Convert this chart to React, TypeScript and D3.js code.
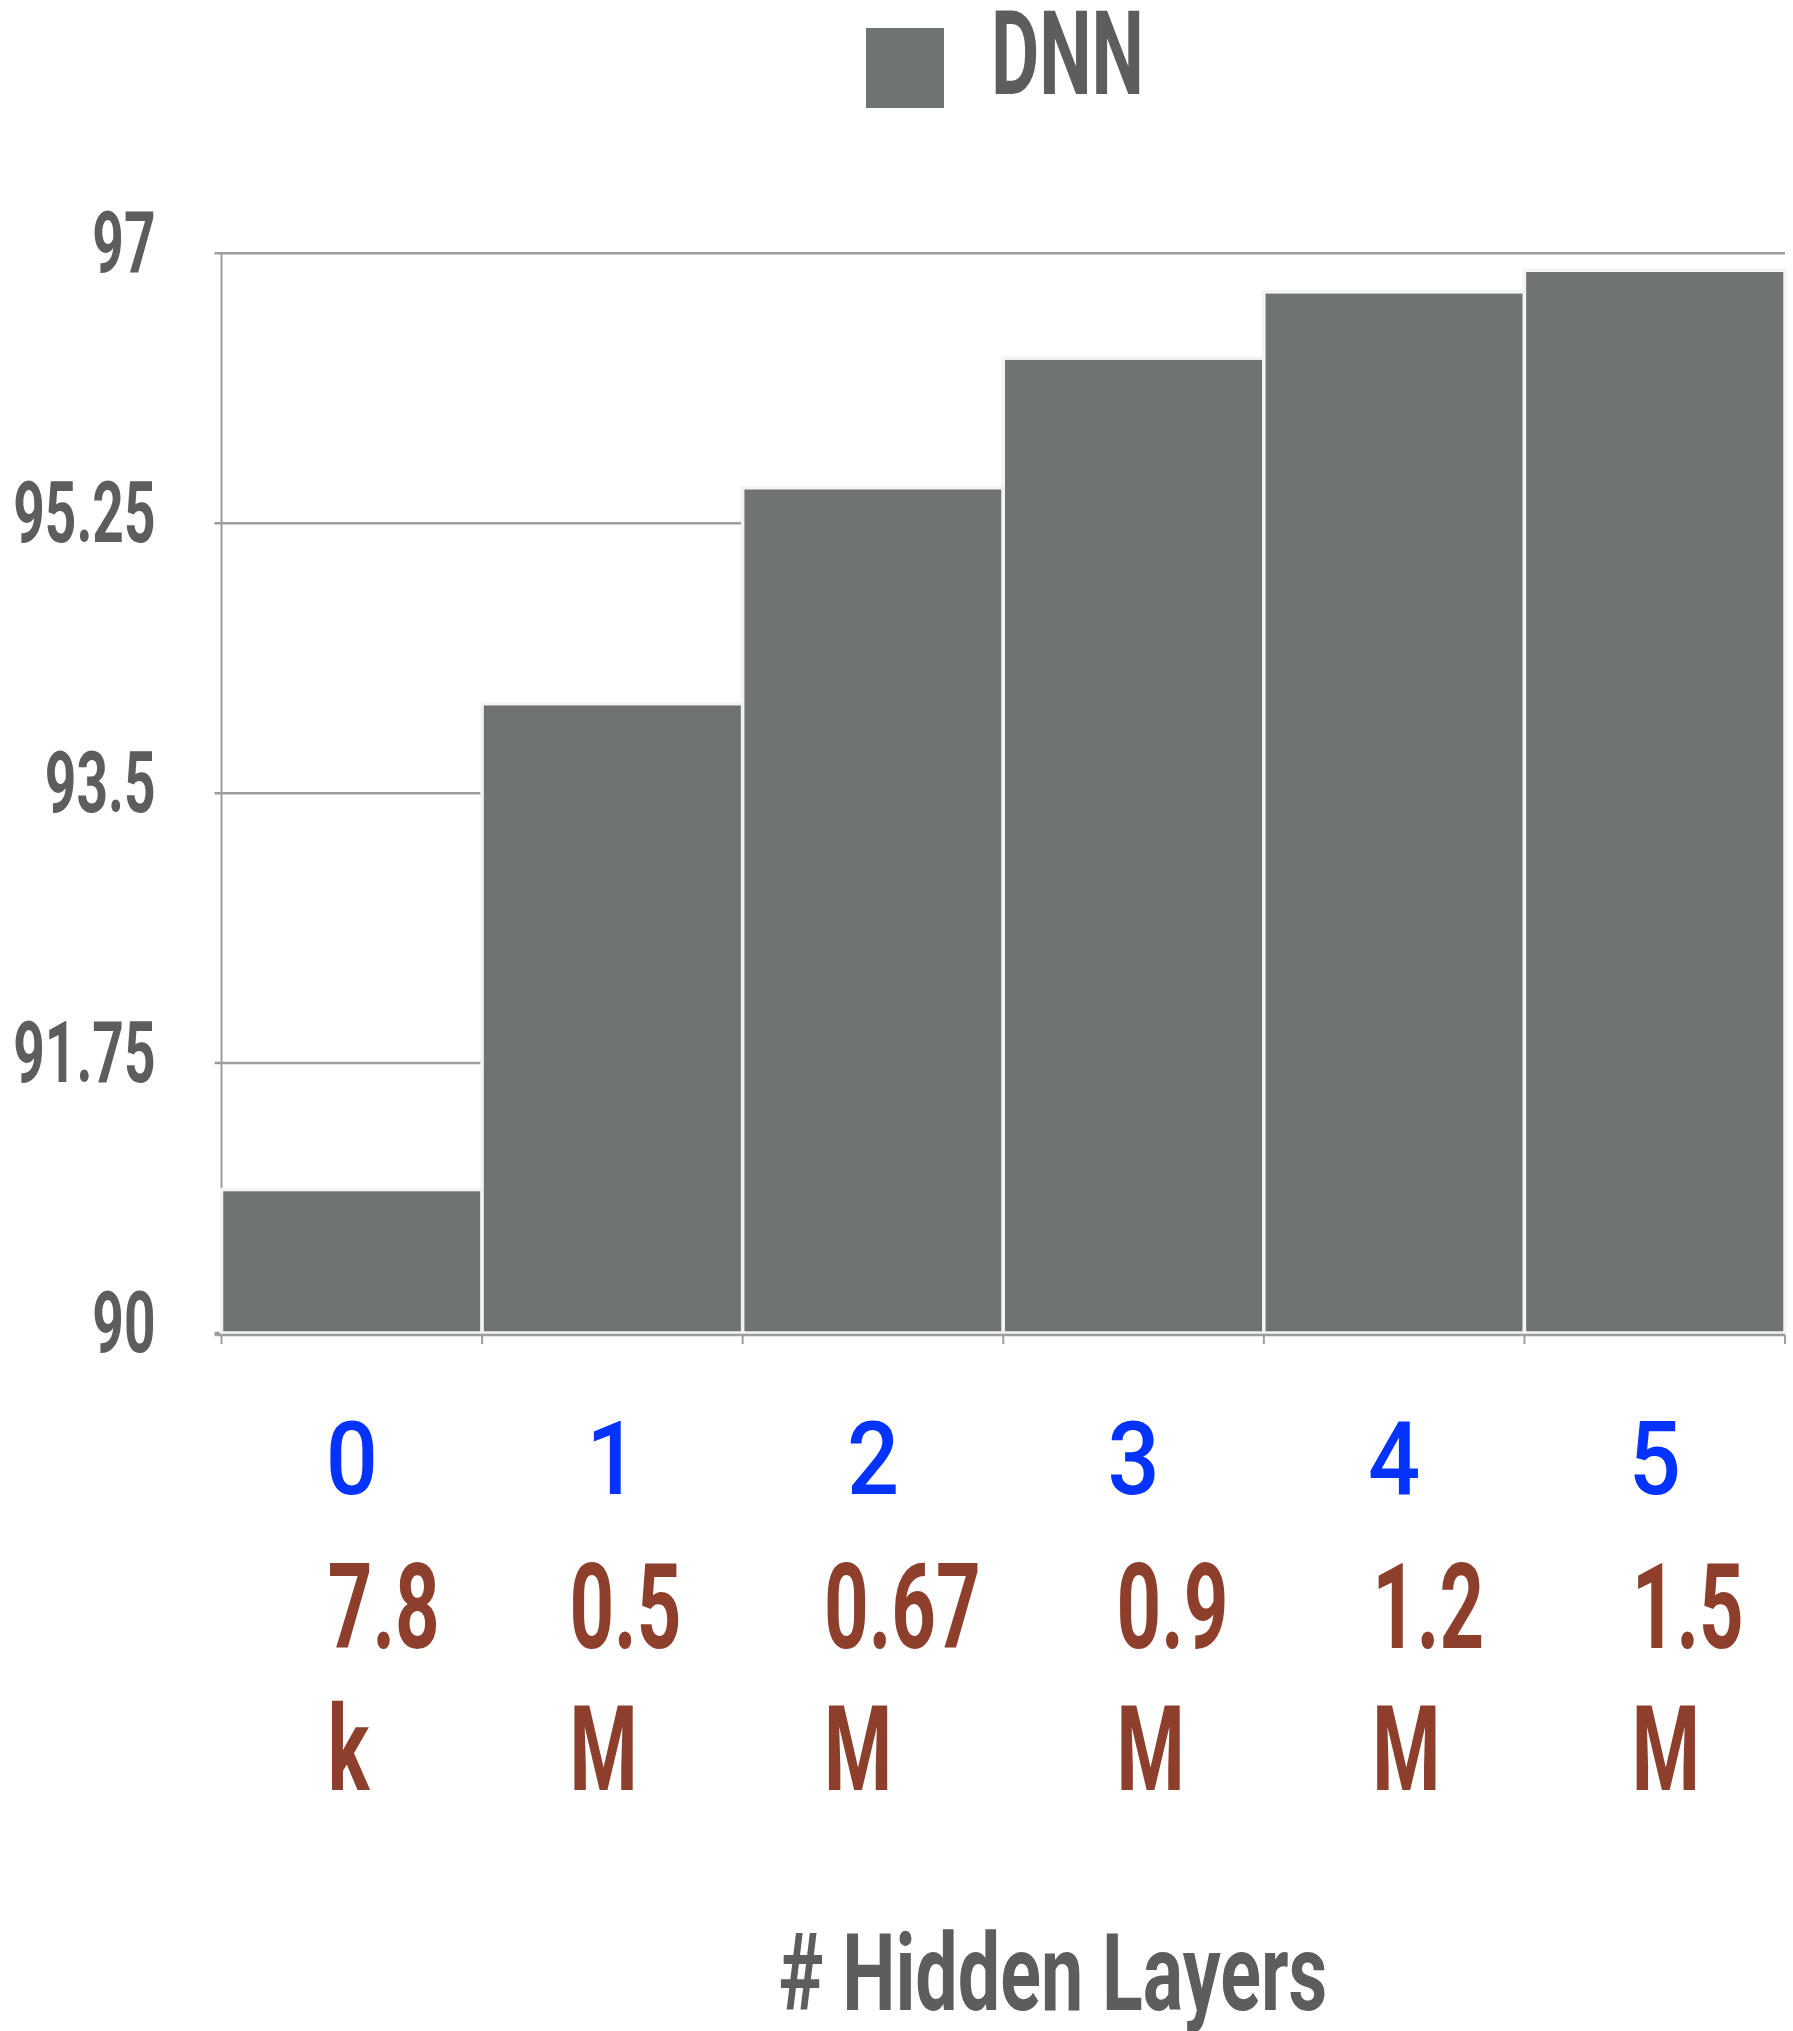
import React from "react";
import * as d3 from "d3";

// Accuracy (%) of a DNN by number of hidden layers
const layers = ["0", "1", "2", "3", "4", "5"];
const accuracy = [90.93, 94.08, 95.48, 96.32, 96.75, 96.89];
const paramCount = ["7.8", "0.5", "0.67", "0.9", "1.2", "1.5"];
const paramUnit = ["k", "M", "M", "M", "M", "M"];
const yTicks = [90, 91.75, 93.5, 95.25, 97];
const seriesName = "DNN";
const xTitle = "# Hidden Layers";

const W = 1793;
const H = 2031;
const plot = { left: 221.5, right: 1785, top: 253.3, bottom: 1333 };

const FONT = "Roboto, 'DejaVu Sans', sans-serif";
const GREY_TEXT = "#5d5d5d";
const BAR = "#6f7471";
const GRID = "#9d9d9d";
const BLUE = "#0433ff";
const BROWN = "#8e3f2c";

// small per-column shifts of the left-aligned parameter labels
const paramNudge = [-24, -43, -49, -17, -22, -23];

function SText({
  x,
  y,
  sx,
  anchor = "start",
  size,
  fill,
  weight = 700,
  children,
}: {
  x: number;
  y: number;
  sx: number;
  anchor?: "start" | "middle" | "end";
  size: number;
  fill: string;
  weight?: number;
  children: React.ReactNode;
}) {
  return (
    <text
      transform={`translate(${x},${y}) scale(${sx},1)`}
      textAnchor={anchor}
      fontFamily={FONT}
      fontWeight={weight}
      fontSize={size}
      fill={fill}
    >
      {children}
    </text>
  );
}

export default function App() {
  const x = d3
    .scaleBand<string>()
    .domain(layers)
    .range([plot.left, plot.right])
    .paddingInner(0)
    .paddingOuter(0);
  const y = d3
    .scaleLinear()
    .domain([yTicks[0], yTicks[yTicks.length - 1]])
    .range([plot.bottom, plot.top]);

  const bw = x.bandwidth();
  const boundaries = layers.map((d) => x(d)!).concat([plot.right]);

  return (
    <svg
      width={W}
      height={H}
      viewBox={`0 0 ${W} ${H}`}
      style={{ position: "absolute", left: 0, top: 0, background: "#fff" }}
    >
      <rect x={0} y={0} width={W} height={H} fill="#fff" />

      {/* legend */}
      <rect x={866} y={28} width={78} height={80} fill={BAR} />
      <SText x={991} y={94} sx={0.64} size={116} fill={GREY_TEXT}>
        {seriesName}
      </SText>

      {/* horizontal grid lines with left ticks */}
      {yTicks.map((t) => (
        <line
          key={`g${t}`}
          x1={plot.left - 7}
          x2={plot.right}
          y1={y(t)}
          y2={y(t)}
          stroke={GRID}
          strokeWidth={2.5}
        />
      ))}

      {/* y axis line */}
      <line
        x1={plot.left}
        x2={plot.left}
        y1={y(yTicks[yTicks.length - 1])}
        y2={y(yTicks[0]) + 2}
        stroke={GRID}
        strokeWidth={2}
      />

      {/* bars */}
      {accuracy.map((v, i) => (
        <rect
          key={`b${i}`}
          x={x(layers[i])!}
          y={y(v)}
          width={bw}
          height={y(yTicks[0]) - y(v)}
          fill={BAR}
          stroke="#f3f3f3"
          strokeWidth={3.5}
        />
      ))}

      {/* x axis line with band ticks */}
      <line
        x1={plot.left - 7}
        x2={plot.right}
        y1={plot.bottom + 2}
        y2={plot.bottom + 2}
        stroke={GRID}
        strokeWidth={2.5}
      />
      {boundaries.map((bx, i) => (
        <line
          key={`t${i}`}
          x1={bx}
          x2={bx}
          y1={plot.bottom + 2}
          y2={plot.bottom + 11}
          stroke={GRID}
          strokeWidth={2}
        />
      ))}

      {/* y tick labels */}
      {yTicks.map((t) => (
        <SText
          key={`yl${t}`}
          x={155.5}
          y={y(t) + 18.5}
          sx={0.64}
          anchor="end"
          size={86}
          fill={GREY_TEXT}
        >
          {String(t)}
        </SText>
      ))}

      {/* layer counts */}
      {layers.map((d) => (
        <SText
          key={`xl${d}`}
          x={x(d)! + bw / 2}
          y={1494}
          sx={0.9}
          anchor="middle"
          size={102}
          fill={BLUE}
          weight={500}
        >
          {d}
        </SText>
      ))}

      {/* parameter counts */}
      {layers.map((d, i) => (
        <g key={`p${d}`}>
          <SText
            x={x(d)! + bw / 2 + paramNudge[i]}
            y={1648}
            sx={0.66}
            size={118}
            fill={BROWN}
          >
            {paramCount[i]}
          </SText>
          <SText
            x={x(d)! + bw / 2 + paramNudge[i]}
            y={1790}
            sx={0.66}
            size={118}
            fill={BROWN}
          >
            {paramUnit[i]}
          </SText>
        </g>
      ))}

      {/* axis title */}
      <SText x={1053} y={2010} sx={0.705} anchor="middle" size={107} fill={GREY_TEXT}>
        {xTitle}
      </SText>
    </svg>
  );
}
